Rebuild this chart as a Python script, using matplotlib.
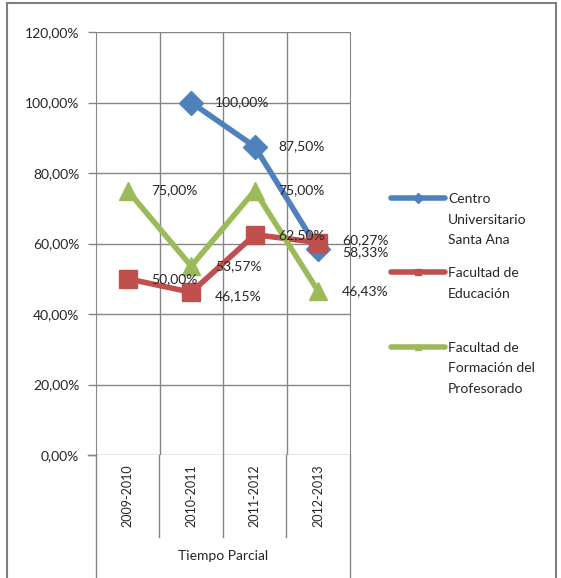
import numpy as np
import matplotlib
matplotlib.use("Agg")
import matplotlib.pyplot as plt
from matplotlib.lines import Line2D
from matplotlib.patches import Rectangle

plt.rcParams['font.family'] = ['Lato', 'DejaVu Sans']

categories = ["2009-2010", "2010-2011", "2011-2012", "2012-2013"]
group_label = "Tiempo Parcial"
series_names = ["Centro\nUniversitario\nSanta Ana", "Facultad de\nEducación",
                "Facultad de\nFormación del\nProfesorado"]
santa_ana = [np.nan, 100.00, 87.50, 58.33]
educacion = [50.00, 46.15, 62.50, 60.27]
profesorado = [75.00, 53.57, 75.00, 46.43]
yticks = [0, 20, 40, 60, 80, 100, 120]

colors = ["#4F81BD", "#C0504D", "#9BBB59"]
markers = ["D", "s", "^"]
values = [santa_ana, educacion, profesorado]

W, H = 561, 578
fig = plt.figure(figsize=(W / 100, H / 100), dpi=100)

def fx(px):
    return px / W

def fy(py):
    return 1 - py / H

ax = fig.add_axes([fx(96), fy(455), fx(350) - fx(96), fy(32) - fy(455)])
x = np.arange(len(categories))
ax.set_xlim(-0.5, len(categories) - 0.5)
ax.set_ylim(0, 120)

grid_c = "#868686"
for t in yticks:
    ax.axhline(t, color=grid_c, lw=1, zorder=1)
for b in np.arange(0.5, len(categories) - 0.5, 1):
    ax.axvline(b, color=grid_c, lw=1, zorder=1)

msizes = [12, 13, 13]
for vals, c, m, ms in zip(values, colors, markers, msizes):
    ax.plot(x, vals, color=c, lw=4, marker=m, markersize=ms, zorder=3,
            solid_capstyle='round')

# data labels (pixel offsets, positive = down)
dy = {(1, 1): -4, (1, 3): 2, (0, 3): -3}
for si, vals in enumerate(values):
    for i, v in enumerate(vals):
        if np.isnan(v):
            continue
        off = dy.get((si, i), 0)
        ax.annotate(f"{v:.2f}%".replace(".", ","), (x[i], v),
                    xytext=(17, off * 0.72), textcoords="offset points",
                    ha="left", va="center", fontsize=10, color="#262626",
                    zorder=4, annotation_clip=False)

ax.set_yticks(yticks)
ax.set_yticklabels([f"{t:.2f}%".replace(".", ",") for t in yticks],
                   fontsize=10, color="#262626")
ax.set_xticks([])
ax.tick_params(axis='y', length=6, color=grid_c, width=1, pad=6)
for s in ["top", "bottom"]:
    ax.spines[s].set_visible(False)
for s in ["left", "right"]:
    ax.spines[s].set_color(grid_c)

# category area below axes
for bx in [159, 223, 286]:
    fig.add_artist(Line2D([fx(bx), fx(bx)], [fy(455), fy(537)], color=grid_c, lw=1))
for bx in [96, 350]:
    fig.add_artist(Line2D([fx(bx), fx(bx)], [fy(455), fy(580)], color=grid_c, lw=1))
fig.add_artist(Line2D([fx(88), fx(96)], [fy(455), fy(455)], color=grid_c, lw=1))

for i, cat in enumerate(categories):
    px = ax.transData.transform((x[i], 0))[0]
    fig.text(px / W, fy(496), cat, rotation=90, ha="center", va="center",
             fontsize=9, color="#262626")
fig.text(fx(223), fy(556), group_label, ha="center", va="center",
         fontsize=10, color="#262626")

# legend
leg_y = [198, 272, 347]
for name, c, m, ly in zip(series_names, colors, markers, leg_y):
    fig.add_artist(Line2D([fx(391), fx(445)], [fy(ly), fy(ly)], color=c, lw=4,
                          solid_capstyle='round'))
    fig.add_artist(Line2D([fx(418)], [fy(ly)], color=c, marker=m, markersize=5,
                          lw=0))
    fig.text(fx(448), fy(ly - 5), name, ha="left", va="top", fontsize=10,
             color="#262626", linespacing=1.85)

# outer border
fig.add_artist(Rectangle((fx(7), fy(600)), fx(556) - fx(7), fy(3) - fy(600),
                         fill=False, edgecolor="#7F7F7F", lw=1.5,
                         transform=fig.transFigure))

fig.savefig("out.png", dpi=100)
